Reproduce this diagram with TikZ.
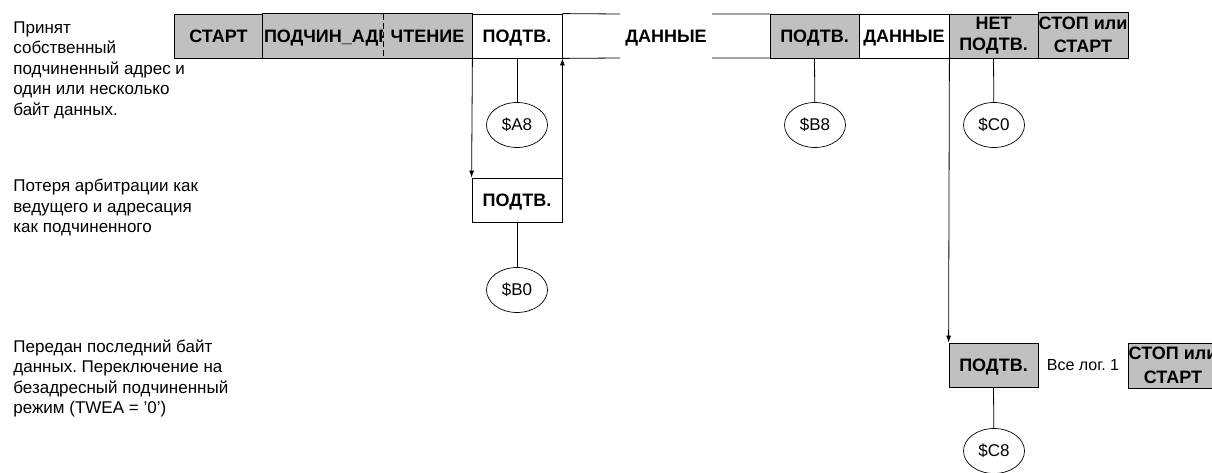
\documentclass[tikz,border=0pt]{standalone}
\usepackage{fontspec}
\setmainfont{Liberation Sans}
\usetikzlibrary{shapes.geometric,arrows.meta}
\definecolor{boxgray}{RGB}{192,192,192}
\frenchspacing

\begin{document}
\begin{tikzpicture}[x=1pt,y=-1pt,line width=0.8pt,
  box/.style={draw,minimum width=90pt,minimum height=44pt,inner sep=0pt,
    font=\fontsize{18}{20}\selectfont\bfseries,text height=13pt,text depth=0pt},
  twoline/.style={text height=,text depth=,align=center},
  graybox/.style={box,fill=boxgray},
  state/.style={draw,ellipse,line width=0.7pt,minimum width=61pt,minimum height=45pt,
    inner sep=0pt,font=\fontsize{17}{20}\selectfont},
  note/.style={anchor=north west,align=left,inner sep=0pt,font=\fontsize{17}{20.5}\selectfont},
  >={Latex[length=7pt,width=5pt]}]
\fill[white] (0,0) rectangle (1212,473);
\useasboundingbox (0,0) rectangle (1212,473);

% left notes
\node[note] (note1) at (13,21) {Принят\\собственный\\подчиненный адрес и\\один или несколько\\байт данных.};
\node[note] (note2) at (13,179) {Потеря арбитрации как\\ведущего и адресация\\как подчиненного};
\node[note] (note3) at (13,339) {Передан последний байт\\данных. Переключение на\\безадресный подчиненный\\режим (TWEA = '0')};

% top frame
\node[graybox,minimum width=89pt] (start) at (218.5,36) {СТАРТ};
\node[graybox,draw=none,minimum width=120pt,text width=118pt,inner xsep=1pt,align=left] (addr) at (323,36) {ПОДЧИН\_АДР};
\node[graybox,draw=none,minimum width=89pt] (read) at (427.5,36) {ЧТЕНИЕ};
\draw (addr.north west) rectangle (read.south east);
\draw[dash pattern=on 6pt off 3pt] (addr.north east) -- (addr.south east);
\node[box] (ack1) at (517,36) {ПОДТВ.};
\node[box,draw=none,minimum width=80pt] (data1) at (666,36) {ДАННЫЕ};
\draw (ack1.north east) -- (620,14) (712,14) -- (770,14);
\draw (ack1.south east) -- (620,58) (712,58) -- (770,58);
\node[graybox,minimum width=89pt] (ack2) at (814.5,36) {ПОДТВ.};
\node[box] (data2) at (904,36) {ДАННЫЕ};
\node[graybox,twoline,minimum width=89pt] (nack) at (993.5,36) {НЕТ\\[1pt]ПОДТВ.};
\node[graybox,twoline,minimum height=46pt] (stop1) at (1083,35) {СТОП или\\[3pt]СТАРТ};

% branches
\node[box] (ack3) at (517,200) {ПОДТВ.};
\node[graybox,minimum width=89pt] (ack4) at (993.5,365) {ПОДТВ.};
\node[font=\fontsize{16}{20}\selectfont] (ones) at (1083,365) {Все лог. 1};
\node[graybox,twoline,minimum height=45pt] (stop2) at (1173,365.5) {СТОП или\\[4pt]СТАРТ};

% status codes
\node[state] (a8) at (517,125) {\$A8};
\node[state] (b0) at (517,290) {\$B0};
\node[state] (b8) at (815,125) {\$B8};
\node[state] (c0) at (994,125) {\$C0};
\node[state] (c8) at (994,451) {\$C8};

\draw (ack1.south) -- (a8);
\draw (ack3.south) -- (b0);
\draw (ack2.south) -- (b8);
\draw (nack.south) -- (c0);
\draw (ack4.south) -- (c8);
\draw[->] (read.south east) -- (ack3.north west);
\draw[->] (ack3.north east) -- (ack1.south east);
\draw[->] (data2.south east) -- (ack4.north west);
\end{tikzpicture}
\end{document}
